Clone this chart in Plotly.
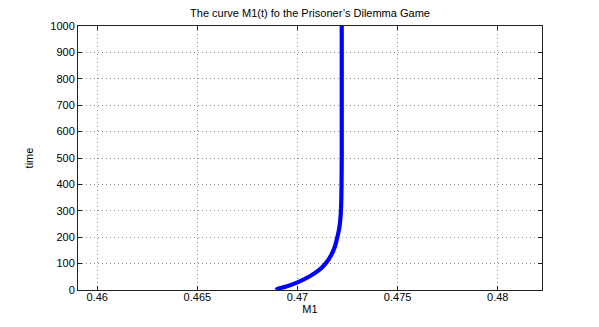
import plotly.graph_objects as go

time_vals = [0, 4, 12, 29, 50, 75, 100, 132, 163, 200, 232, 260, 300, 350, 400,
             500, 600, 700, 800, 900, 1000]
m1_vals = [0.46895, 0.46899, 0.46940, 0.47000, 0.47057, 0.47107, 0.47140, 0.47168, 0.47186,
           0.47199, 0.47208, 0.47213, 0.47217, 0.47219, 0.47220,
           0.47221, 0.47221, 0.47221, 0.47221, 0.47221, 0.47221]

x_ticks = [0.46, 0.465, 0.47, 0.475, 0.48]
x_tick_labels = ["0.46", "0.465", "0.47", "0.475", "0.48"]
y_ticks = [0, 100, 200, 300, 400, 500, 600, 700, 800, 900, 1000]

font_family = "Liberation Sans, Arial, sans-serif"
W, H = 599, 327
OFF = 8  # default body margin of the page

fig = go.Figure()
fig.add_trace(go.Scatter(
    x=m1_vals, y=time_vals, mode="lines",
    line=dict(color="#0000ff", width=4.2, shape="spline", smoothing=0.8),
    showlegend=False, hoverinfo="skip",
))

fig.update_layout(
    width=W, height=H,
    margin=dict(l=78 - OFF, r=W - 542 + OFF, t=24 - OFF, b=H - 290 + OFF),
    paper_bgcolor="white", plot_bgcolor="white",
    font=dict(family=font_family, size=11, color="black"),
    title=dict(text="The curve M1(t) fo the Prisoner’s Dilemma Game",
               x=((78 + 542) / 2 - OFF) / W, xanchor="center",
               y=1 - (13 - OFF) / H, yanchor="middle",
               font=dict(size=11, family=font_family)),
    xaxis=dict(
        range=[0.45904, 0.48221], tickvals=x_ticks, ticktext=x_tick_labels,
        showgrid=True, gridcolor="#8c8c8c", griddash="1px,3px", gridwidth=1,
        showline=True, linecolor="#222222", linewidth=1, mirror="ticks",
        ticks="inside", ticklen=4, tickcolor="#222222",
        zeroline=False, tickfont=dict(size=11), ticklabelstandoff=-3,
        title=dict(text="M1", standoff=0, font=dict(size=11)),
    ),
    yaxis=dict(
        range=[0, 1000], tickvals=y_ticks,
        showgrid=True, gridcolor="#8c8c8c", griddash="1px,3px", gridwidth=1,
        showline=True, linecolor="#222222", linewidth=1, mirror="ticks",
        ticks="inside", ticklen=4, tickcolor="#222222",
        zeroline=False, tickfont=dict(size=11),
        title=dict(text="time", standoff=14, font=dict(size=11)),
    ),
)

fig.write_html("out.html")
